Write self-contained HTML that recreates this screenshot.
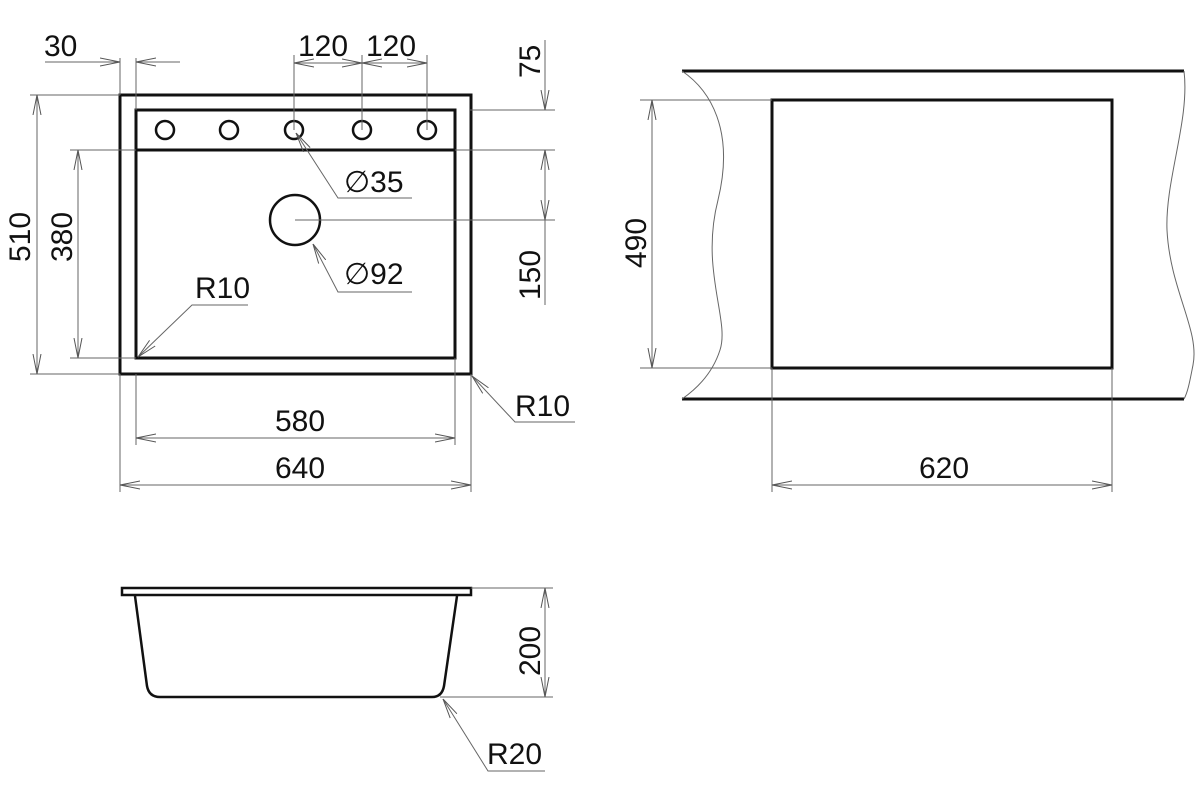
<!DOCTYPE html>
<html><head><meta charset="utf-8"><style>html,body{margin:0;padding:0;background:#fff}svg{display:block}text{font-family:"Liberation Sans",Arial,sans-serif;font-size:30px;fill:#111}</style></head>
<body>
<svg width="1200" height="800" viewBox="0 0 1200 800" xmlns="http://www.w3.org/2000/svg">
<defs>
<marker id="a" viewBox="0 0 20 10" refX="20" refY="5" markerWidth="20" markerHeight="10" markerUnits="userSpaceOnUse" orient="auto-start-reverse">
<path d="M0,1 L20,5 L0,9" fill="none" stroke="#555" stroke-width="1"/>
</marker>
</defs>
<g fill="none" stroke="#111" stroke-width="3">
<rect x="120" y="95" width="351" height="279"/>
<rect x="136" y="110" width="319" height="248"/>
<line x1="136" y1="150" x2="455" y2="150"/>
<g stroke-width="2.5">
<circle cx="165" cy="130" r="9"/><circle cx="229" cy="130" r="9"/><circle cx="294" cy="130" r="9"/><circle cx="362" cy="130" r="9"/><circle cx="427" cy="130" r="9"/>
<circle cx="295" cy="220" r="25"/>
</g>
<rect x="772" y="100" width="340" height="268"/>
<line x1="682" y1="71" x2="1184" y2="71"/>
<line x1="682" y1="399" x2="1184" y2="399"/>
<rect x="122" y="588" width="349" height="7" stroke-width="2.5"/>
<path d="M135,596 L147,686 Q149,697 160,697 L432,697 Q442,697 444,686 L457,596" stroke-width="2.5"/>
</g>
<g fill="none" stroke="#666" stroke-width="1">
<path d="M682,71 C710,90 735,130 718,200 C700,270 730,320 720,350 C712,375 695,390 682,399"/>
<path d="M1184,71 C1190,120 1165,180 1167,230 C1170,290 1200,330 1193,365 C1190,380 1188,392 1184,399"/>
<!-- ext lines -->
<line x1="120" y1="58" x2="120" y2="95"/><line x1="136" y1="58" x2="136" y2="110"/>
<line x1="294" y1="55" x2="294" y2="130"/><line x1="362" y1="55" x2="362" y2="130"/><line x1="427" y1="55" x2="427" y2="130"/>
<line x1="470" y1="110" x2="555" y2="110"/><line x1="455" y1="150" x2="555" y2="150"/><line x1="295" y1="220" x2="555" y2="220"/>
<line x1="30" y1="95" x2="120" y2="95"/><line x1="30" y1="374" x2="120" y2="374"/>
<line x1="70" y1="150" x2="136" y2="150"/><line x1="70" y1="358" x2="136" y2="358"/>
<line x1="136" y1="374" x2="136" y2="445"/><line x1="455" y1="358" x2="455" y2="445"/>
<line x1="120" y1="374" x2="120" y2="492"/><line x1="471" y1="374" x2="471" y2="492"/>
<line x1="640" y1="100" x2="772" y2="100"/><line x1="640" y1="368" x2="772" y2="368"/>
<line x1="772" y1="368" x2="772" y2="492"/><line x1="1112" y1="368" x2="1112" y2="492"/>
<line x1="471" y1="588" x2="553" y2="588"/><line x1="440" y1="697" x2="553" y2="697"/>
<!-- dim lines -->
<line x1="45" y1="62" x2="120" y2="62" marker-end="url(#a)"/>
<line x1="180" y1="62" x2="136" y2="62" marker-end="url(#a)"/>
<line x1="294" y1="63" x2="362" y2="63" marker-start="url(#a)" marker-end="url(#a)"/>
<line x1="362" y1="63" x2="427" y2="63" marker-start="url(#a)" marker-end="url(#a)"/>
<line x1="545" y1="40" x2="545" y2="110" marker-end="url(#a)"/>
<line x1="545" y1="150" x2="545" y2="220" marker-start="url(#a)" marker-end="url(#a)"/>
<line x1="545" y1="220" x2="545" y2="305"/>
<line x1="37" y1="95" x2="37" y2="374" marker-start="url(#a)" marker-end="url(#a)"/>
<line x1="78" y1="150" x2="78" y2="358" marker-start="url(#a)" marker-end="url(#a)"/>
<line x1="136" y1="438" x2="455" y2="438" marker-start="url(#a)" marker-end="url(#a)"/>
<line x1="120" y1="485" x2="471" y2="485" marker-start="url(#a)" marker-end="url(#a)"/>
<line x1="652" y1="100" x2="652" y2="368" marker-start="url(#a)" marker-end="url(#a)"/>
<line x1="772" y1="485" x2="1112" y2="485" marker-start="url(#a)" marker-end="url(#a)"/>
<line x1="545" y1="588" x2="545" y2="697" marker-start="url(#a)" marker-end="url(#a)"/>
<!-- leaders -->
<polyline points="248,305 192,305 138,357" marker-end="url(#a)"/>
<polyline points="412,198 338,198 296,133" marker-end="url(#a)"/>
<polyline points="412,292 338,292 313,244" marker-end="url(#a)"/>
<polyline points="575,422 515,422 472,376" marker-end="url(#a)"/>
<polyline points="545,771 488,771 443,699" marker-end="url(#a)"/>
</g>
<text x="44" y="56">30</text>
<text x="298" y="56">120</text>
<text x="366" y="56">120</text>
<text x="195" y="298">R10</text>
<text x="515" y="416">R10</text>
<text x="487" y="764">R20</text>
<text x="344" y="192">∅35</text>
<text x="344" y="284">∅92</text>
<text x="275" y="431">580</text>
<text x="275" y="478">640</text>
<text x="919" y="478">620</text>
<text transform="translate(540,78) rotate(-90)">75</text>
<text transform="translate(540,300) rotate(-90)">150</text>
<text transform="translate(540,676) rotate(-90)">200</text>
<text transform="translate(30,262) rotate(-90)">510</text>
<text transform="translate(72,262) rotate(-90)">380</text>
<text transform="translate(646,268) rotate(-90)">490</text>
</svg>
</body></html>
